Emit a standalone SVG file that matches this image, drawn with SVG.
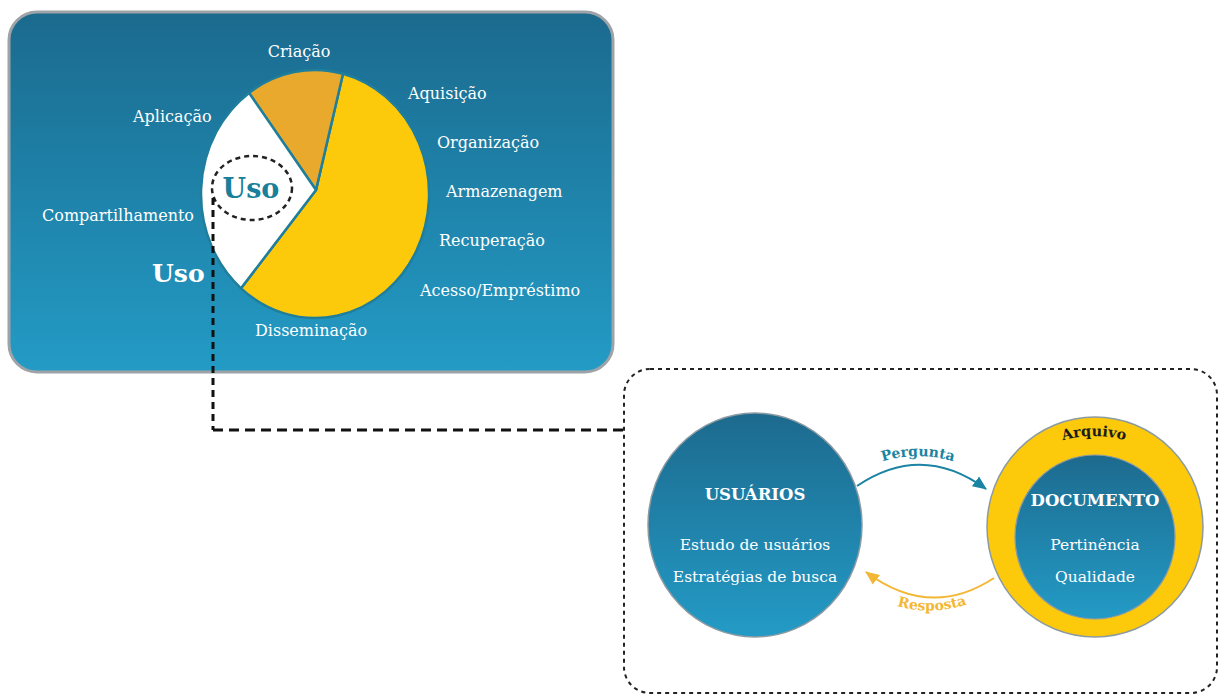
<svg xmlns="http://www.w3.org/2000/svg" width="1220" height="696" viewBox="0 0 1220 696">
<defs>
<linearGradient id="gPanel" x1="0" y1="0" x2="0" y2="1">
<stop offset="0" stop-color="#1b6a8e"/>
<stop offset="1" stop-color="#239bc5"/>
</linearGradient>
<linearGradient id="gBlue" x1="0" y1="0" x2="0" y2="1">
<stop offset="0" stop-color="#1d6a8e"/>
<stop offset="1" stop-color="#239bc6"/>
</linearGradient>
<marker id="mTeal" markerUnits="userSpaceOnUse" markerWidth="16" markerHeight="14" refX="13" refY="7" orient="auto">
<path d="M0,1 L14,7 L0,13 Z" fill="#1a84a2"/>
</marker>
<marker id="mGold" markerUnits="userSpaceOnUse" markerWidth="16" markerHeight="14" refX="13" refY="7" orient="auto">
<path d="M0,1 L14,7 L0,13 Z" fill="#f3b733"/>
</marker>
<path id="pPerg" d="M870,466 Q918,446 966,466"/>
<path id="pResp" d="M888,603 Q932,619 976,601"/>
<path id="pArq" d="M1052,444 Q1094,428 1136,444"/>
</defs>
<style>
.lbl{font-family:"DejaVu Serif","Liberation Serif",serif;font-size:16px;fill:#ffffff}
.in{font-size:15.5px}
.mid{text-anchor:middle}
.bold{font-weight:bold}
.slice{stroke:#1f7e9c;stroke-width:2.5;stroke-linejoin:round}
</style>
<rect width="1220" height="696" fill="#ffffff"/>

<g id="panel">
<rect x="9" y="12" width="604" height="360" rx="28" fill="url(#gPanel)" stroke="#9ea3a8" stroke-width="3"/>
</g>

<g id="pie">
<path class="slice" d="M316,190 L343,73.8 A114,124 0 1,1 241,288.3 Z" fill="#fdca0b"/>
<path class="slice" d="M316,190 L249,92.9 A114,124 0 0,1 343,73.8 Z" fill="#e9a92c"/>
<path class="slice" d="M316,190 L241,288.3 A114,124 0 0,1 249,92.9 Z" fill="#ffffff"/>
<ellipse cx="252" cy="188" rx="40" ry="32" fill="none" stroke="#222222" stroke-width="2.5" stroke-dasharray="5 4"/>
<text x="251" y="198" class="lbl mid bold" style="font-size:27px;fill:#1a7f9b">Uso</text>
</g>

<g id="labels">
<text x="299" y="57" class="lbl mid">Criação</text>
<text x="408" y="99" class="lbl">Aquisição</text>
<text x="133" y="122" class="lbl">Aplicação</text>
<text x="437" y="148" class="lbl">Organização</text>
<text x="446" y="197" class="lbl">Armazenagem</text>
<text x="42" y="221" class="lbl">Compartilhamento</text>
<text x="439" y="246" class="lbl">Recuperação</text>
<text x="420" y="296" class="lbl">Acesso/Empréstimo</text>
<text x="255" y="336" class="lbl">Disseminação</text>
<text x="152" y="282" class="lbl bold" style="font-size:25px">Uso</text>
</g>

<g id="connectors">
<path d="M213,198 L213,430" fill="none" stroke="#111111" stroke-width="3" stroke-dasharray="7 5"/>
<path d="M213,430 L624,430" fill="none" stroke="#111111" stroke-width="3" stroke-dasharray="10 6"/>
<path d="M857,486 Q922,442 986,489" fill="none" stroke="#1a84a2" stroke-width="2" marker-end="url(#mTeal)"/>
<path d="M994,578 Q930,620 866,572" fill="none" stroke="#f3b733" stroke-width="2" marker-end="url(#mGold)"/>
<text class="lbl bold" style="font-size:14px;fill:#1a84a2"><textPath href="#pPerg" startOffset="50%" text-anchor="middle">Pergunta</textPath></text>
<text class="lbl bold" style="font-size:14px;fill:#f3b733"><textPath href="#pResp" startOffset="50%" text-anchor="middle">Resposta</textPath></text>
</g>

<g id="zoombox">
<rect x="624" y="369" width="593" height="324" rx="26" fill="none" stroke="#222222" stroke-width="2" stroke-dasharray="4 4"/>
</g>

<g id="usuarios">
<ellipse cx="755" cy="525" rx="107" ry="112" fill="url(#gBlue)" stroke="#8c9aa2" stroke-width="1.5"/>
<text x="755" y="500" class="lbl mid bold" style="font-size:16.5px">USUÁRIOS</text>
<text x="755" y="550" class="lbl in mid">Estudo de usuários</text>
<text x="755" y="582" class="lbl in mid">Estratégias de busca</text>
</g>

<g id="documento">
<ellipse cx="1095" cy="527" rx="108" ry="110" fill="#fdca0b" stroke="#8c9aa2" stroke-width="1.5"/>
<ellipse cx="1095" cy="537" rx="80" ry="82" fill="url(#gBlue)" stroke="#8c9aa2" stroke-width="1.2"/>
<text class="lbl bold" style="font-size:14.5px;fill:#1c1c1c"><textPath href="#pArq" startOffset="50%" text-anchor="middle">Arquivo</textPath></text>
<text x="1095" y="506" class="lbl mid bold" style="font-size:16.5px">DOCUMENTO</text>
<text x="1095" y="550" class="lbl in mid">Pertinência</text>
<text x="1095" y="582" class="lbl in mid">Qualidade</text>
</g>
</svg>
